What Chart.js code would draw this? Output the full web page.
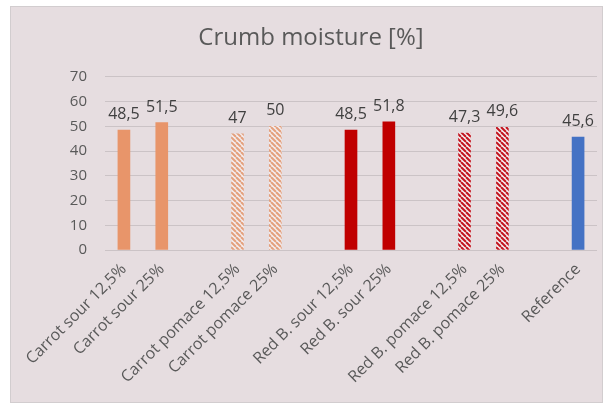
<!DOCTYPE html>
<html lang="en">
<head>
    <meta charset="UTF-8">
    <title>Crumb moisture</title>
    <style>
        body { margin: 0; background: #ffffff; }
        #box {
            position: absolute; left: 10px; top: 6px;
            width: 593px; height: 397px; box-sizing: border-box;
            border: 1px solid #d2cdcf; background: #e6dde0;
        }
    </style>
</head>
<body>
    <div id="box"><canvas id="moisture-chart" width="591" height="395"></canvas></div>

    <script src="https://cdn.jsdelivr.net/npm/chart.js"></script>
    <script>
        // empty strings are the gaps between the groups
        const categories = ['Carrot sour 12,5%', 'Carrot sour 25%', '',
            'Carrot pomace 12,5%', 'Carrot pomace 25%', '',
            'Red B. sour 12,5%', 'Red B. sour 25%', '',
            'Red B. pomace 12,5%', 'Red B. pomace 25%', '',
            'Reference'];
        const moisture = [48.5, 51.5, null, 47, 50, null, 48.5, 51.8, null, 47.3, 49.6, null, 45.6];
        const yTicks = [0, 10, 20, 30, 40, 50, 60, 70];

        function hatch(color) {
            const s = 5;
            const c = document.createElement('canvas');
            c.width = s; c.height = s;
            const g = c.getContext('2d');
            g.fillStyle = '#f3ecee';
            g.fillRect(0, 0, s, s);
            g.strokeStyle = color;
            g.lineWidth = 2;
            for (const k of [-s, 0, s]) {
                g.beginPath();
                g.moveTo(k, 0);
                g.lineTo(k + s, s);
                g.stroke();
            }
            return g.createPattern(c, 'repeat');
        }

        const fills = categories.map(name => {
            if (name.startsWith('Carrot sour')) return '#e8956a';
            if (name.startsWith('Carrot pomace')) return hatch('#e4a07c');
            if (name.startsWith('Red B. sour')) return '#c00000';
            if (name.startsWith('Red B. pomace')) return hatch('#c3141e');
            return '#4472c4';
        });

        const valueLabels = {
            id: 'valueLabels',
            afterDatasetsDraw(chart) {
                const ctx = chart.ctx;
                ctx.save();
                ctx.font = '16px "Open Sans"';
                ctx.fillStyle = '#404040';
                ctx.textAlign = 'center';
                ctx.textBaseline = 'alphabetic';
                chart.getDatasetMeta(0).data.forEach((bar, i) => {
                    const v = moisture[i];
                    if (v === null) return;
                    ctx.fillText(String(v).replace('.', ','), bar.x, bar.y - 11);
                });
                ctx.restore();
            }
        };

        const ctx = document.getElementById('moisture-chart').getContext('2d');
        new Chart(ctx, {
            type: 'bar',
            data: {
                labels: categories,
                datasets: [{
                    label: 'Crumb moisture',
                    data: moisture,
                    backgroundColor: fills,
                    barThickness: 12
                }]
            },
            options: {
                responsive: false,
                animation: false,
                layout: { padding: { left: 14, right: 5, top: 0, bottom: 0 } },
                plugins: {
                    legend: { display: false },
                    tooltip: { enabled: false },
                    title: {
                        display: true,
                        text: 'Crumb moisture [%]',
                        color: '#595959',
                        font: { family: 'Open Sans', size: 24, weight: 'normal' },
                        padding: { top: 17, bottom: 24 }
                    }
                },
                scales: {
                    x: {
                        grid: { display: false },
                        border: { display: false },
                        ticks: {
                            autoSkip: false,
                            minRotation: 45,
                            maxRotation: 45,
                            padding: 2,
                            color: '#595959',
                            font: { family: 'Open Sans', size: 16 }
                        },
                        afterFit: s => { s.height = 152; }
                    },
                    y: {
                        min: 0,
                        max: 70,
                        afterBuildTicks: s => { s.ticks = yTicks.map(v => ({ value: v })); },
                        grid: { color: '#cbc3c6', drawTicks: false },
                        border: { display: false },
                        ticks: {
                            padding: 18,
                            color: '#595959',
                            font: { family: 'Open Sans', size: 15 }
                        },
                        afterFit: s => { s.width = 80; }
                    }
                }
            },
            plugins: [valueLabels]
        });
    </script>
</body>
</html>
